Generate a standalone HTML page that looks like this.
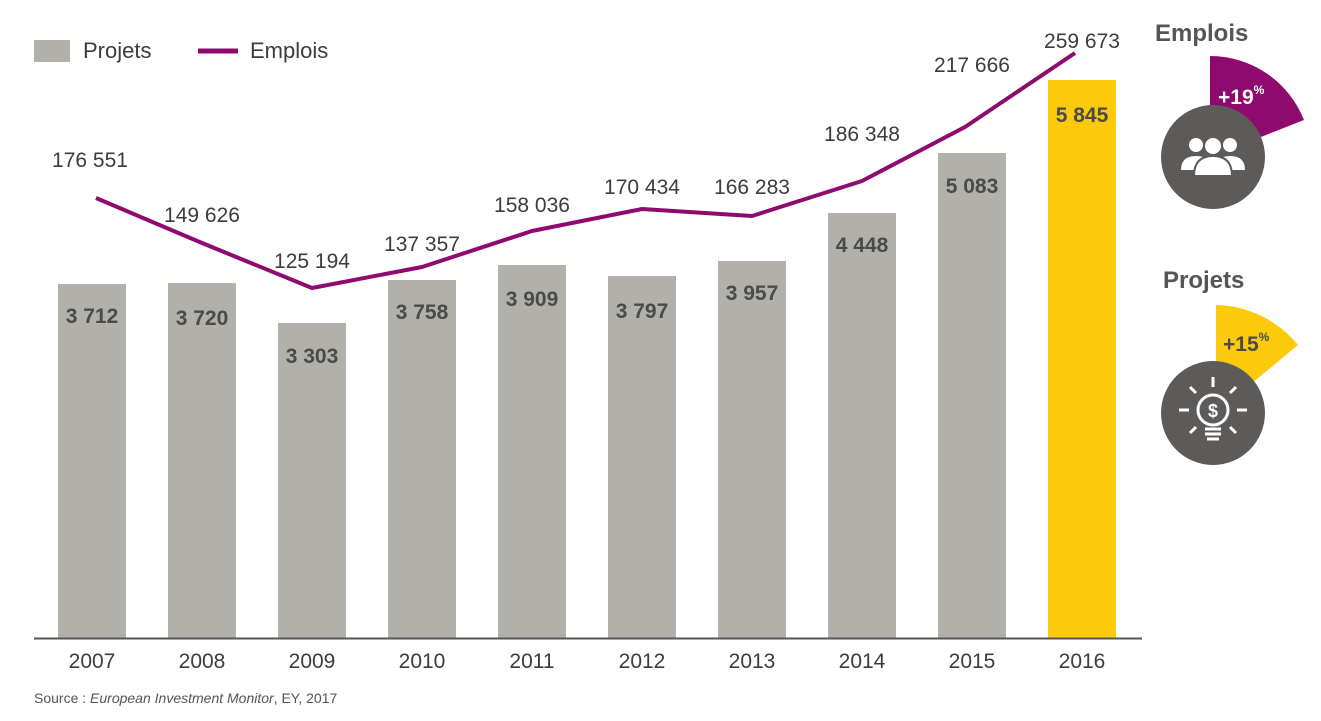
<!DOCTYPE html>
<html><head><meta charset="utf-8"><style>
body{margin:0;background:#fff;}
svg{display:block;font-family:"Liberation Sans",sans-serif;}
</style></head><body>
<svg width="1321" height="721" viewBox="0 0 1321 721">
<rect x="34" y="40" width="36" height="22" fill="#b1b0aa"/>
<text x="83" y="58" font-size="22" fill="#3c3c3c">Projets</text>
<line x1="198" y1="51" x2="238" y2="51" stroke="#8e0a6e" stroke-width="5"/>
<text x="250" y="58" font-size="22" fill="#3c3c3c">Emplois</text>
<g fill="#b1b0aa">
<rect x="58" y="284" width="68" height="354"/>
<rect x="168" y="283" width="68" height="355"/>
<rect x="278" y="323" width="68" height="315"/>
<rect x="388" y="280" width="68" height="358"/>
<rect x="498" y="265" width="68" height="373"/>
<rect x="608" y="276" width="68" height="362"/>
<rect x="718" y="261" width="68" height="377"/>
<rect x="828" y="213" width="68" height="425"/>
<rect x="938" y="153" width="68" height="485"/>
</g>
<rect x="1048" y="80" width="68" height="558" fill="#fdc90b"/>
<line x1="34" y1="638.5" x2="1142" y2="638.5" stroke="#555" stroke-width="2"/>
<g font-size="21" font-weight="bold" fill="#4a4a4a" text-anchor="middle">
<text x="92" y="323">3 712</text><text x="202" y="325">3 720</text><text x="312" y="363">3 303</text>
<text x="422" y="319">3 758</text><text x="532" y="306">3 909</text><text x="642" y="318">3 797</text>
<text x="752" y="300">3 957</text><text x="862" y="252">4 448</text><text x="972" y="193">5 083</text>
<text x="1082" y="122">5 845</text>
</g>
<polyline points="96,198 202,243 312,288 422,267 532,231 642,209 752,216 862,181 965,127 1075,53" fill="none" stroke="#8e0a6e" stroke-width="4" stroke-linejoin="round"/>
<g font-size="21" fill="#3c3c3c" text-anchor="middle">
<text x="90" y="167">176 551</text><text x="202" y="222">149 626</text><text x="312" y="268">125 194</text>
<text x="422" y="251">137 357</text><text x="532" y="212">158 036</text><text x="642" y="194">170 434</text>
<text x="752" y="194">166 283</text><text x="862" y="141">186 348</text><text x="972" y="72">217 666</text>
<text x="1082" y="48">259 673</text>
</g>
<g font-size="21" fill="#3c3c3c" text-anchor="middle">
<text x="92" y="668">2007</text><text x="202" y="668">2008</text><text x="312" y="668">2009</text>
<text x="422" y="668">2010</text><text x="532" y="668">2011</text><text x="642" y="668">2012</text>
<text x="752" y="668">2013</text><text x="862" y="668">2014</text><text x="972" y="668">2015</text>
<text x="1082" y="668">2016</text>
</g>
<text x="34" y="703" font-size="14" fill="#555">Source : <tspan font-style="italic">European Investment Monitor</tspan>, EY, 2017</text>
<text x="1155" y="41" font-size="24" font-weight="bold" fill="#555">Emplois</text>
<path d="M1210,157 L1210,56 A101,101 0 0,1 1304,120 Z" fill="#8e0a6e"/>
<circle cx="1213" cy="157" r="52" fill="#5c5b59"/>
<text x="1218" y="104" font-size="21" font-weight="bold" fill="#fff">+19<tspan font-size="12" dy="-10">%</tspan></text>
<g fill="#fff">
<circle cx="1196" cy="145" r="7"/><circle cx="1230" cy="145" r="7"/>
<path d="M1181,170 q0,-14 15,-14 q15,0 15,14 z"/><path d="M1215,170 q0,-14 15,-14 q15,0 15,14 z"/>
<circle cx="1213" cy="146" r="9" stroke="#5c5b59" stroke-width="2"/>
<path d="M1194,176 q0,-20 19,-20 q19,0 19,20 z" stroke="#5c5b59" stroke-width="2"/>
</g>
<text x="1163" y="288" font-size="24" font-weight="bold" fill="#555">Projets</text>
<path d="M1216,413 L1216,305 A108,108 0 0,1 1298,345 Z" fill="#fdc90b"/>
<circle cx="1213" cy="413" r="52" fill="#5c5b59"/>
<text x="1223" y="351" font-size="21" font-weight="bold" fill="#4a4a4a">+15<tspan font-size="12" dy="-10">%</tspan></text>
<g stroke="#fff" stroke-width="3" fill="none">
<circle cx="1213" cy="410" r="15"/>
<line x1="1213" y1="377" x2="1213" y2="387"/><line x1="1179" y1="410" x2="1189" y2="410"/><line x1="1237" y1="410" x2="1247" y2="410"/>
<line x1="1190" y1="387" x2="1196" y2="393"/><line x1="1236" y1="387" x2="1230" y2="393"/>
<line x1="1190" y1="433" x2="1196" y2="427"/><line x1="1236" y1="433" x2="1230" y2="427"/>
<line x1="1205" y1="429" x2="1221" y2="429"/><line x1="1205" y1="434" x2="1221" y2="434"/><line x1="1207" y1="439" x2="1219" y2="439"/>
</g>
<text x="1213" y="417" font-size="18" font-weight="bold" fill="#fff" text-anchor="middle">$</text>
</svg>
</body></html>
